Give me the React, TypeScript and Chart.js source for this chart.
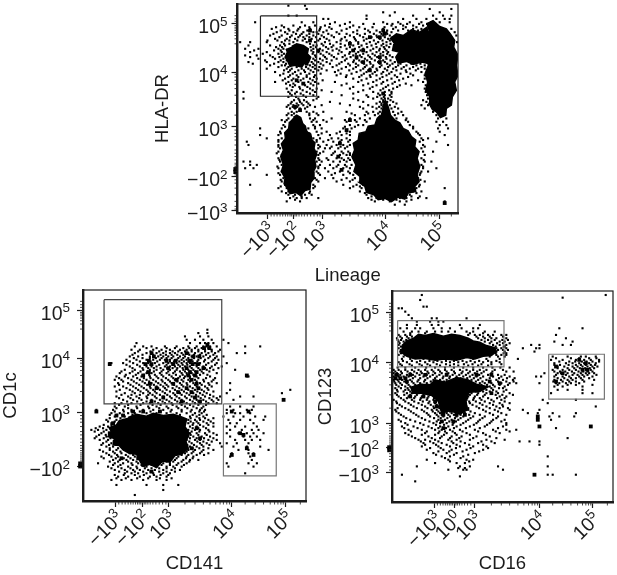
import React, { useEffect, useRef } from "react";
import { Chart, registerables } from "chart.js";

Chart.register(...registerables);

// All values are in biexponential display channels (arbitrary axis units).
const lineageRange = [262, 925];
const hlaRange = [10, 640];
const lineageTicks = [353, 430, 517, 707, 868];
const lineageLabels = ["−10³", "−10²", "10³", "10⁴", "10⁵"];
const hlaTicks = [70, 215, 380, 530, 632];
const hlaLabels = ["10⁵", "10⁴", "10³", "−10²", "−10³"];
const lineageMinor = [363, 372, 381, 390, 398, 406, 413, 420, 425, 435, 440, 447, 455, 463, 472, 482, 492, 502, 510, 555, 575, 600, 625, 645, 660, 672, 682, 690, 698, 745, 775, 800, 820, 835, 845, 855, 862, 905];
const hlaMinor = [45, 55, 62, 75, 80, 85, 90, 97, 105, 115, 130, 222, 230, 240, 252, 265, 285, 310, 345, 390, 400, 410, 420, 435, 450, 460, 470, 480, 490, 495, 500, 505, 510, 515, 520, 525, 540, 550, 565, 585, 605, 620, 628];
const hlaGate = [[331, 46], [500, 46], [500, 288], [331, 288], [331, 46]];
const lymphBlob = [[430, 352], [440, 345], [452, 352], [458, 370], [466, 378], [470, 395], [482, 402], [486, 420], [495, 428], [492, 445], [500, 462], [494, 480], [498, 500], [490, 515], [492, 535], [482, 548], [480, 568], [465, 572], [452, 588], [438, 578], [420, 582], [412, 565], [402, 552], [405, 535], [394, 515], [400, 495], [392, 470], [400, 450], [394, 432], [406, 415], [404, 398], [416, 385], [418, 365]];
const lineageBlob = [[698, 322], [706, 300], [716, 322], [722, 345], [735, 360], [750, 368], [760, 385], [775, 392], [785, 410], [798, 420], [795, 440], [808, 455], [802, 475], [810, 500], [802, 525], [808, 545], [795, 560], [798, 575], [775, 580], [765, 598], [745, 592], [725, 606], [705, 596], [685, 600], [672, 585], [650, 578], [645, 560], [628, 548], [630, 530], [612, 515], [618, 495], [606, 470], [614, 450], [610, 430], [625, 420], [628, 400], [648, 395], [655, 378], [675, 375], [682, 355], [692, 345]];
const monoBlob = [[830, 70], [850, 60], [870, 78], [890, 85], [902, 100], [915, 120], [912, 140], [925, 165], [920, 195], [925, 225], [915, 245], [920, 270], [908, 290], [905, 315], [890, 325], [888, 345], [872, 352], [860, 335], [848, 328], [838, 310], [840, 290], [828, 270], [834, 245], [826, 220], [836, 195], [830, 170], [838, 140], [828, 110], [836, 90]];
const upperBlob = [[720, 115], [740, 100], [760, 105], [785, 88], [810, 95], [832, 80], [840, 190], [815, 185], [790, 192], [770, 183], [745, 188], [738, 170], [748, 155], [728, 150], [732, 130]];
const gateBlob = [[425, 138], [440, 130], [460, 135], [475, 145], [472, 160], [482, 170], [476, 185], [462, 190], [455, 200], [435, 195], [420, 198], [412, 180], [405, 170], [412, 155], [408, 145]];
const lineageRows = [
  [15, 415, 465], [25, 470, 840, 905], [35, 735, 700, 870], [45, 415, 440, 650, 720, 790, 850, 880, 905],
  [55, 520, 535, 650, 760, 800, 830, 860, 885, 900], [65, 315, 455, 490, 555, 600, 700, 745, 780, 815, 845, 870, 900],
  [75, 395, 430, 465, 495, 525, 570, 610, 725, 760, 790, 820], [85, 365, 415, 445, 480, 510, 545, 590, 645, 700, 730, 760, 790, 815, 905],
  [95, 380, 405, 430, 460, 490, 500, 520, 560, 610, 660, 690, 710, 725, 830, 915], [105, 360, 395, 425, 450, 470, 490, 515, 545, 600, 630, 680, 700, 720, 920],
  [115, 375, 410, 435, 465, 485, 510, 530, 575, 615, 650, 690, 715], [125, 270, 300, 350, 395, 430, 470, 495, 525, 560, 600, 625, 660, 685, 710, 922],
  [135, 295, 360, 390, 405, 490, 500, 520, 550, 585, 610, 635, 665, 695, 710], [145, 285, 325, 385, 400, 490, 510, 535, 560, 590, 615, 640, 670, 690, 705],
  [155, 300, 350, 395, 490, 505, 530, 575, 600, 625, 650, 680, 700, 715], [165, 285, 320, 360, 395, 495, 520, 545, 585, 610, 630, 655, 675, 700, 720],
  [175, 325, 375, 400, 490, 510, 530, 560, 590, 620, 645, 665, 690, 710], [185, 295, 350, 385, 400, 485, 505, 530, 575, 610, 635, 660, 685, 705, 735],
  [195, 360, 395, 405, 480, 495, 520, 560, 600, 625, 650, 670, 695, 720, 745, 770, 800, 825], [205, 350, 410, 425, 455, 475, 495, 515, 575, 610, 640, 660, 680, 705, 730, 755, 780, 805, 825],
  [215, 375, 415, 435, 465, 490, 555, 620, 650, 675, 700, 725, 770, 815], [225, 390, 420, 440, 470, 495, 560, 590, 635, 660, 680, 710, 735, 790, 825],
  [235, 405, 430, 460, 480, 500, 610, 650, 690, 725, 760, 825], [245, 375, 415, 445, 475, 495, 555, 625, 670, 700, 735, 820],
  [255, 420, 435, 465, 490, 575, 640, 680, 715, 750, 785, 828], [265, 410, 450, 480, 500, 600, 660, 700, 730, 825],
  [275, 280, 415, 440, 470, 495, 545, 625, 670, 705, 725, 828], [285, 425, 460, 490, 575, 650, 690, 705, 720, 832],
  [295, 280, 445, 500, 610, 670, 695, 705, 715, 835], [305, 425, 450, 470, 540, 640, 690, 700, 712, 730, 830],
  [315, 415, 430, 445, 460, 480, 515, 600, 655, 695, 705, 720, 815, 835], [325, 420, 435, 450, 465, 640, 680, 695, 725, 745, 825],
  [335, 425, 440, 470, 490, 520, 590, 650, 670, 690, 730, 755, 850], [345, 410, 425, 478, 505, 615, 645, 675, 735, 760, 860, 880],
  [355, 415, 480, 495, 545, 600, 630, 660, 740, 770, 865, 890], [365, 405, 485, 500, 530, 590, 620, 650, 775, 860, 880],
  [375, 400, 490, 510, 600, 625, 640, 780, 870, 890], [385, 330, 395, 475, 495, 515, 580, 605, 790, 865, 895],
  [395, 390, 470, 500, 530, 570, 600, 800, 870], [405, 330, 385, 480, 505, 540, 575, 600, 810, 885],
  [415, 350, 395, 490, 510, 545, 565, 590, 815, 835], [425, 290, 385, 500, 520, 550, 570, 595, 810, 860],
  [435, 295, 385, 505, 530, 560, 580, 600, 820, 895], [445, 390, 505, 525, 540, 565, 585, 815],
  [455, 385, 500, 520, 555, 575, 595, 820, 850], [465, 395, 505, 545, 570, 590, 600, 825],
  [475, 385, 505, 530, 560, 575, 595, 815], [485, 280, 300, 390, 500, 515, 550, 570, 590, 825, 845],
  [495, 300, 320, 395, 510, 540, 565, 585, 605, 815], [505, 285, 310, 385, 505, 525, 550, 580, 600, 820, 860],
  [515, 395, 500, 535, 570, 595, 815, 835], [525, 350, 390, 510, 545, 580, 610, 810],
  [535, 400, 495, 525, 550, 590, 615, 805], [545, 395, 505, 560, 600, 630, 800, 825],
  [555, 300, 405, 490, 580, 620, 640, 810], [565, 385, 410, 490, 600, 635, 650, 800, 885],
  [575, 395, 415, 480, 630, 660, 690, 790, 815], [585, 415, 435, 465, 485, 650, 680, 705, 770, 780],
  [595, 420, 440, 455, 470, 505, 655, 680, 720, 750, 770, 805, 830], [605, 410, 450, 675, 720, 750, 770, 885], [615, 735, 765],
  [70, 540, 585, 640, 672, 712, 728, 752, 772, 808, 832, 858],
  [80, 378, 402, 450, 478, 512, 538, 600, 628, 668, 704, 738, 768, 800],
  [90, 392, 418, 442, 472, 508, 530, 575, 622, 655, 680, 712, 745, 775, 805],
  [100, 370, 412, 438, 455, 478, 505, 535, 568, 590, 622, 645, 672, 695, 712],
  [110, 388, 420, 445, 460, 478, 498, 522, 552, 585, 612, 640, 665, 682, 705, 728],
  [120, 352, 382, 405, 418, 442, 458, 480, 505, 538, 572, 590, 618, 642, 672, 698, 720],
  [130, 402, 418, 480, 515, 540, 572, 598, 625, 650, 678, 700, 722],
  [140, 378, 396, 482, 498, 528, 545, 572, 600, 628, 652, 680, 702, 718],
  [150, 312, 372, 392, 484, 518, 548, 568, 608, 632, 662, 688, 710],
  [160, 338, 385, 402, 488, 512, 538, 565, 598, 618, 640, 668, 692, 712],
  [170, 300, 368, 388, 498, 525, 552, 578, 602, 635, 660, 682, 708, 728],
  [180, 345, 392, 410, 495, 518, 545, 585, 612, 628, 652, 675, 700, 722],
  [190, 308, 372, 408, 420, 490, 512, 540, 568, 595, 618, 642, 662, 690, 712, 728, 752, 785, 812],
  [200, 385, 415, 440, 468, 488, 508, 548, 588, 618, 645, 668, 690, 715, 738, 762, 790, 815],
  [210, 402, 420, 445, 462, 482, 505, 530, 565, 598, 632, 655, 682, 712, 740, 768, 798],
  [220, 400, 428, 452, 478, 512, 572, 605, 642, 668, 695, 718, 752, 782],
  [230, 415, 445, 470, 492, 588, 628, 662, 698, 742, 775],
  [240, 398, 425, 452, 488, 518, 635, 680, 712, 748, 805],
  [250, 408, 430, 458, 482, 505, 590, 655, 695, 728, 768],
  [260, 428, 448, 472, 610, 668, 708, 742],
  [270, 425, 458, 488, 515, 640, 692, 718],
  [280, 420, 435, 452, 480, 610, 685, 700, 725],
  [290, 415, 438, 468, 505, 655, 682, 702, 725],
  [300, 432, 448, 462, 490, 625, 700, 722, 820],
  [310, 422, 440, 455, 475, 570, 680, 695, 710, 740],
  [320, 410, 428, 442, 472, 495, 630, 668, 688, 735],
  [340, 415, 432, 478, 500, 605, 655, 685, 745],
  [360, 395, 410, 490, 520, 585, 615, 645, 768],
  [380, 405, 495, 585, 615, 790],
  [400, 392, 478, 515, 560, 590, 805],
  [420, 385, 500, 535, 575, 600, 820],
  [440, 385, 510, 545, 572, 592, 825],
  [460, 380, 510, 550, 580, 600],
  [480, 388, 508, 535, 582, 600, 822],
  [500, 382, 505, 560, 590, 820],
  [520, 385, 505, 555, 600, 812],
  [540, 392, 500, 575, 608, 812],
  [560, 392, 495, 610, 630, 808],
  [580, 408, 478, 645, 672, 700, 800],
  [590, 430, 455, 665, 695, 785, 810],
  [600, 435, 665, 700, 740, 785],
];
const lineageClumps = [
  [90, 480, 700], [100, 704], [110, 660, 690], [120, 480], [130, 600], [150, 505, 610, 640], [160, 795], [170, 620, 690], [185, 640, 690],
  [190, 450, 470], [210, 660], [240, 440], [250, 460], [280, 700], [320, 435], [330, 450], [360, 600], [390, 590], [430, 570], [470, 565], [510, 575], [610, 885],
];
const lineagePile = [[256, 492], [256, 500], [256, 508], [256, 516]];

const cd141Range = [250, 917];
const cd1cRange = [16, 648];
const cd141Ticks = [347, 428, 507, 695, 855];
const cd141Labels = ["−10³", "−10²", "10³", "10⁴", "10⁵"];
const cd1cTicks = [77, 220, 382, 545];
const cd1cLabels = ["10⁵", "10⁴", "10³", "−10²"];
const cd141Minor = [357, 367, 376, 385, 393, 400, 407, 413, 418, 423, 433, 438, 444, 451, 459, 468, 478, 488, 498, 555, 585, 610, 630, 647, 660, 670, 680, 688, 735, 765, 790, 810, 823, 833, 842, 849, 900];
const cd1cMinor = [50, 60, 68, 83, 88, 93, 100, 108, 118, 133, 227, 235, 245, 257, 272, 292, 320, 355, 392, 402, 412, 425, 440, 450, 462, 472, 482, 490, 497, 504, 510, 516, 522, 528, 534, 540, 548];
const cd1cUpperGate = [[313, 45], [665, 45], [665, 357], [313, 357], [313, 45]];
const cd141Gate = [[670, 357], [828, 357], [828, 573], [670, 573], [670, 357]];
const cd141Blob = [[385, 398], [410, 388], [440, 394], [460, 385], [490, 392], [520, 388], [545, 396], [560, 402], [555, 425], [568, 445], [558, 470], [565, 490], [545, 508], [525, 512], [510, 532], [488, 528], [470, 548], [450, 538], [430, 544], [418, 525], [410, 508], [388, 505], [370, 495], [358, 482], [340, 480], [346, 462], [325, 455], [335, 440], [328, 428], [350, 420], [360, 405]];
const cd141Rows = [
  [135, 622], [145, 595, 622], [155, 555, 600, 625], [165, 560, 585, 610, 635, 670], [175, 410, 570, 600, 615, 625, 640, 685],
  [185, 405, 430, 455, 495, 530, 565, 590, 610, 620, 630, 650, 735, 780], [195, 395, 420, 460, 485, 510, 540, 560, 575, 595, 615, 635, 660],
  [205, 405, 440, 470, 490, 510, 525, 545, 565, 585, 605, 625, 645, 710, 735], [215, 390, 415, 450, 475, 490, 505, 520, 540, 555, 575, 590, 610, 630, 650, 670],
  [225, 380, 410, 440, 460, 480, 495, 510, 530, 545, 560, 575, 595, 615, 640, 655], [235, 330, 335, 370, 400, 430, 445, 465, 490, 505, 515, 530, 545, 560, 570, 585, 600, 625, 650, 680],
  [245, 390, 420, 440, 455, 470, 495, 510, 525, 540, 555, 570, 590, 610, 635, 665], [255, 375, 405, 430, 450, 470, 490, 510, 530, 550, 565, 580, 600, 620, 640, 705],
  [265, 360, 390, 415, 440, 455, 480, 500, 520, 545, 560, 575, 590, 610, 650], [275, 350, 375, 400, 425, 450, 470, 490, 515, 540, 555, 570, 590, 630, 745, 740],
  [285, 345, 365, 395, 420, 440, 460, 485, 505, 525, 545, 565, 585, 610, 640], [295, 355, 385, 410, 435, 455, 475, 495, 515, 540, 560, 580, 600, 625, 650, 690],
  [305, 345, 370, 400, 425, 450, 470, 490, 505, 530, 550, 570, 590, 615, 635], [315, 360, 390, 415, 440, 460, 480, 500, 525, 545, 565, 585, 605, 625, 690, 870],
  [325, 375, 405, 430, 450, 470, 495, 520, 540, 560, 580, 600, 620, 680, 845], [335, 350, 385, 410, 440, 465, 490, 510, 530, 555, 575, 595, 615, 640, 660, 720, 760],
  [345, 370, 400, 425, 455, 480, 500, 525, 545, 570, 590, 610, 635, 655, 700, 850], [355, 345, 365, 395, 430, 450, 475, 495, 515, 540, 560, 585, 600, 625, 650],
  [365, 345, 375, 410, 445, 470, 500, 530, 555, 580, 610, 690, 720, 760], [375, 290, 340, 370, 395, 430, 460, 490, 515, 545, 575, 600, 615, 680, 700, 740, 755],
  [385, 335, 360, 385, 405, 440, 470, 500, 530, 560, 585, 605, 680, 705, 720, 750], [395, 345, 375, 570, 590, 610, 670, 700, 730, 765, 795],
  [405, 320, 350, 370, 565, 585, 600, 625, 685, 720, 750, 790], [415, 335, 360, 565, 580, 595, 620, 640, 690, 710, 760],
  [425, 300, 325, 345, 570, 590, 610, 640, 680, 705, 735, 770], [435, 275, 295, 320, 340, 565, 585, 600, 625, 690, 725, 755, 775],
  [445, 305, 330, 570, 590, 615, 640, 680, 715, 740, 760, 790], [455, 290, 320, 565, 580, 605, 630, 690, 730, 750, 770],
  [465, 300, 325, 345, 560, 585, 600, 625, 650, 705, 735, 755, 780], [475, 310, 335, 355, 555, 575, 600, 620, 660, 680, 710, 745],
  [485, 320, 340, 365, 385, 550, 570, 590, 610, 665, 700, 740, 780], [495, 300, 330, 350, 375, 400, 540, 565, 585, 610, 640, 715, 745, 805],
  [505, 320, 345, 365, 390, 410, 530, 555, 575, 600, 625, 695, 745, 760], [515, 305, 335, 355, 385, 405, 430, 510, 535, 560, 580, 690, 750],
  [525, 340, 360, 380, 400, 500, 525, 550, 570, 595, 755], [535, 295, 345, 370, 395, 415, 490, 510, 535, 560, 680, 745, 770],
  [545, 325, 355, 385, 410, 440, 470, 500, 520, 545, 685, 760], [555, 345, 375, 400, 420, 445, 465, 490, 515, 540],
  [565, 375, 395, 415, 440, 460, 490, 510, 735], [575, 355, 385, 420, 450, 470, 500], [585, 335, 365, 395, 430, 470, 500],
  [600, 350, 440, 490, 535], [615, 490], [630, 405],
  [190, 440, 470, 500, 525, 550, 568, 585, 605, 625],
  [200, 415, 452, 478, 498, 518, 535, 555, 575, 595, 615, 635, 655],
  [210, 398, 428, 460, 482, 498, 515, 532, 550, 568, 582, 600, 618, 640],
  [220, 402, 428, 450, 468, 485, 500, 515, 535, 550, 565, 582, 602, 625, 645],
  [230, 390, 420, 452, 472, 498, 510, 522, 538, 552, 565, 578, 592, 612, 635],
  [240, 380, 412, 435, 452, 478, 500, 518, 535, 548, 562, 578, 598, 618, 645],
  [250, 398, 428, 445, 462, 482, 502, 518, 532, 548, 560, 575, 595, 615, 630, 655],
  [260, 365, 398, 422, 442, 462, 485, 505, 525, 540, 555, 570, 585, 605, 628],
  [270, 378, 408, 432, 448, 465, 485, 508, 528, 548, 562, 580, 600, 622],
  [280, 358, 385, 412, 432, 452, 475, 498, 520, 535, 552, 570, 595, 618, 645],
  [290, 370, 402, 428, 448, 468, 488, 510, 532, 550, 570, 590, 612, 635],
  [300, 358, 392, 418, 442, 462, 482, 500, 522, 545, 562, 585, 605, 628],
  [310, 380, 408, 432, 452, 475, 495, 518, 538, 558, 578, 598, 622],
  [320, 350, 398, 422, 445, 465, 488, 510, 532, 552, 572, 592, 612, 640],
  [330, 365, 395, 420, 445, 458, 480, 502, 525, 545, 568, 588, 608, 630],
  [340, 358, 392, 418, 442, 470, 492, 515, 538, 560, 582, 602, 628, 650],
  [350, 382, 412, 440, 465, 488, 508, 532, 552, 578, 595, 618, 640],
  [360, 358, 385, 422, 458, 482, 518, 545, 570, 595, 618],
  [370, 350, 385, 412, 448, 478, 505, 535, 562, 590, 605],
  [380, 345, 372, 395, 420, 452, 482, 512, 545, 572, 598, 612],
  [390, 330, 352, 368, 398, 540, 578, 598, 620],
  [400, 330, 362, 572, 598, 615, 640], [410, 325, 345, 572, 590, 610, 632], [420, 312, 335, 355, 578, 600, 625],
  [430, 288, 310, 332, 350, 578, 595, 618], [440, 285, 312, 335, 575, 598, 628], [450, 298, 318, 338, 572, 595, 620, 650],
  [460, 285, 312, 332, 570, 590, 612, 640], [470, 320, 342, 568, 592, 610, 635], [480, 305, 328, 348, 562, 582, 605, 628],
  [490, 330, 355, 378, 558, 578, 598, 625], [500, 310, 340, 362, 385, 535, 560, 580, 605], [510, 328, 352, 378, 400, 518, 545, 565, 590, 612],
  [520, 312, 348, 372, 392, 418, 508, 530, 558, 578], [530, 330, 355, 385, 410, 480, 500, 520, 545, 568], [540, 340, 362, 398, 425, 455, 485, 510, 530, 552],
  [550, 335, 365, 392, 412, 435, 455, 478, 500, 525], [560, 358, 382, 405, 430, 452, 478, 500, 525], [570, 345, 372, 405, 432, 462, 482, 505], [580, 350, 378, 412, 445, 480, 515],
];
const cd141Clumps = [
  [180, 622], [190, 612, 628], [205, 455, 560], [215, 462, 580, 598], [228, 447, 500, 527, 570], [238, 330, 437, 455, 520, 578, 592], [250, 505, 560, 610],
  [262, 447, 570, 590], [272, 430, 565, 585, 740], [285, 530, 575], [297, 450, 520, 590], [310, 470, 560, 595], [322, 535, 575], [338, 490, 585], [345, 850], [350, 455, 545, 600],
  [380, 290, 400, 430, 480, 695, 745], [392, 350, 370], [415, 340], [430, 590], [445, 330, 720], [450, 730], [460, 600], [470, 345], [490, 575, 740], [510, 695, 760], [520, 365, 415], [540, 430], [560, 455],
];
const cd141Pile = [[242, 520], [242, 528], [242, 536], [242, 544]];

const cd16Range = [245, 912];
const cd123Range = [18, 652];
const cd16Ticks = [373, 433, 495, 690, 850];
const cd16Labels = ["−10³", "10⁰", "10³", "10⁴", "10⁵"];
const cd123Ticks = [82, 232, 415, 488, 563];
const cd123Labels = ["10⁵", "10⁴", "10³", "−10²", "−10³"];
const cd16Minor = [382, 391, 399, 406, 412, 418, 423, 428, 438, 443, 449, 456, 464, 473, 483, 545, 575, 600, 625, 643, 657, 668, 676, 684, 730, 760, 785, 805, 820, 830, 838, 845, 895];
const cd123Minor = [55, 65, 73, 88, 93, 98, 105, 113, 123, 138, 240, 250, 262, 278, 300, 330, 370, 422, 430, 438, 446, 454, 460, 466, 472, 478, 483, 494, 500, 507, 515, 524, 534, 546, 556];
const cd123Gate = [[262, 107], [583, 107], [583, 246], [262, 246], [262, 107]];
const cd16Gate = [[718, 208], [886, 208], [886, 343], [718, 343], [718, 208]];
const cd123Blob = [[275, 182], [290, 168], [310, 160], [325, 148], [345, 152], [370, 146], [400, 154], [425, 148], [450, 152], [475, 160], [490, 168], [510, 172], [530, 182], [555, 188], [560, 200], [545, 212], [520, 214], [495, 222], [470, 218], [440, 226], [405, 222], [375, 226], [340, 220], [315, 222], [290, 214], [272, 202]];
const cd16Blob = [[300, 308], [330, 298], [360, 300], [375, 285], [405, 292], [440, 278], [475, 285], [500, 298], [535, 306], [510, 320], [478, 322], [468, 345], [472, 375], [450, 388], [420, 378], [395, 385], [385, 350], [365, 332], [335, 325], [305, 325]];
const cd16Rows = [
  [30, 335, 890], [38, 760], [45, 330], [65, 340, 350], [70, 265, 275], [80, 285], [90, 295], [100, 305, 365, 380, 470],
  [110, 320, 360, 385, 400], [120, 290, 320, 365, 385, 450, 510], [130, 270, 290, 315, 330, 370, 395, 420, 455, 490, 505, 750, 820],
  [140, 280, 305, 325, 350, 375, 395, 415, 435, 470, 490, 525, 555], [150, 265, 285, 300, 475, 495, 510, 535, 550, 575, 590, 740],
  [160, 260, 275, 295, 505, 525, 545, 560, 590, 770], [170, 265, 280, 525, 545, 570, 585, 735, 790], [180, 265, 550, 570, 590, 665, 690, 760, 785],
  [190, 265, 560, 575, 590, 640, 680, 690], [200, 270, 560, 585, 675], [210, 265, 285, 560, 575, 590],
  [222, 275, 300, 340, 395, 450, 490, 530, 570, 625], [232, 265, 290, 320, 345, 370, 395, 420, 445, 470, 495, 520, 545, 570], [242, 275, 305, 335, 360, 390, 420, 445, 475, 505, 535],
  [215, 730, 775, 815, 830, 860], [225, 725, 760, 800, 825, 845, 870], [235, 735, 770, 790, 810, 825, 840, 860], [245, 740, 745, 765, 790, 805, 820, 835, 850, 865],
  [255, 730, 760, 780, 800, 820, 830, 845], [265, 705, 745, 755, 775, 795, 815, 830, 840, 855], [275, 680, 695, 735, 760, 780, 810, 825, 850], [285, 735, 755, 775, 790, 820, 855],
  [295, 690, 740, 750, 770, 785, 810], [305, 735, 760, 820], [315, 745, 775, 820], [325, 725, 820, 850], [345, 700, 800], [355, 715], [365, 860],
  [375, 640, 690], [385, 655, 685, 730, 800], [395, 720, 750, 795], [405, 685, 725], [425, 690, 845], [430, 740], [460, 775], [470, 630, 660, 690], [480, 690], [515, 715], [545, 715], [570, 275, 675, 715, 730, 800], [590, 315],
  [255, 250, 265, 285, 305, 325, 345, 365, 385, 405, 425, 450, 470, 490, 510, 530, 555, 580], [265, 250, 260, 275, 300, 320, 335, 355, 375, 395, 415, 435, 455, 475, 495, 515, 545],
  [275, 250, 265, 280, 295, 315, 340, 360, 380, 400, 420, 440, 460, 480, 500, 520, 550, 575, 600], [285, 250, 262, 275, 300, 325, 345, 370, 390, 410, 430, 445, 465, 485, 505, 530, 560, 580, 610],
  [295, 255, 270, 290, 310, 330, 350, 375, 395, 415, 435, 455, 470, 490, 510, 525, 545, 575, 600, 620], [305, 265, 285, 300, 320, 340, 360, 380, 405, 425, 440, 460, 480, 500, 520, 540, 555, 585],
  [315, 260, 285, 295, 310, 330, 350, 370, 390, 415, 430, 450, 470, 490, 510, 530, 550, 590], [325, 255, 290, 305, 325, 345, 365, 385, 405, 425, 445, 465, 485, 505, 530, 565, 600],
  [335, 265, 295, 315, 335, 355, 375, 395, 415, 435, 455, 475, 495, 520, 570, 590], [345, 250, 280, 305, 330, 350, 370, 390, 410, 430, 450, 470, 490, 515, 545, 575],
  [355, 260, 295, 325, 355, 375, 395, 415, 440, 460, 480, 510, 540, 570, 600], [365, 275, 310, 345, 370, 385, 405, 425, 450, 470, 500, 530, 560, 580],
  [375, 255, 295, 335, 365, 380, 395, 415, 435, 455, 475, 520, 555, 600], [385, 265, 310, 350, 375, 390, 410, 425, 445, 465, 495, 540, 575],
  [395, 280, 325, 360, 385, 400, 420, 440, 460, 490, 525, 565], [405, 265, 300, 345, 385, 405, 425, 445, 475, 510, 550, 585],
  [415, 285, 330, 370, 390, 410, 430, 460, 500, 540, 590], [425, 275, 310, 355, 390, 415, 440, 480, 525, 580],
  [435, 295, 335, 375, 395, 420, 450, 495, 550, 590, 620], [445, 285, 345, 385, 410, 435, 470, 520, 570], [455, 305, 355, 395, 425, 455, 500, 540],
  [465, 325, 345, 375, 415, 440, 480, 530, 585], [475, 340, 370, 395, 430, 465, 505, 555], [485, 335, 385, 420, 450, 490, 530], [495, 350, 400, 425, 470, 520],
  [505, 370, 410, 440, 495], [515, 395, 420, 460], [525, 350, 415, 470, 490], [535, 375, 440, 465], [545, 320, 450, 480, 565], [555, 415, 460, 470, 580], [575, 450],
  [260, 255, 272, 292, 312, 332, 352, 370, 390, 410, 432, 458, 480, 502, 522, 548, 590, 612],
  [270, 255, 270, 290, 308, 328, 350, 368, 388, 408, 428, 448, 468, 488, 508, 535, 565, 585],
  [280, 258, 272, 288, 308, 330, 352, 375, 398, 418, 438, 452, 472, 492, 512, 540, 568, 592, 615],
  [290, 252, 265, 282, 305, 322, 342, 362, 382, 402, 425, 442, 460, 478, 498, 518, 538, 565, 590, 612],
  [300, 258, 275, 295, 315, 335, 355, 378, 398, 420, 438, 458, 478, 495, 515, 532, 550, 570, 595],
  [310, 255, 272, 292, 305, 325, 345, 365, 385, 410, 428, 445, 465, 485, 505, 525, 545, 568, 580],
  [320, 262, 280, 300, 318, 338, 358, 378, 398, 418, 438, 458, 478, 498, 520, 540, 560, 582],
  [330, 260, 282, 300, 320, 340, 360, 380, 400, 420, 442, 460, 480, 502, 525, 558, 578, 610],
  [340, 272, 290, 312, 332, 352, 372, 392, 412, 432, 452, 472, 492, 510, 535, 562, 585],
  [350, 258, 285, 312, 338, 358, 378, 398, 418, 438, 458, 478, 498, 525, 552, 585],
  [360, 268, 302, 335, 362, 380, 398, 420, 445, 465, 488, 518, 550, 578],
  [370, 262, 285, 320, 352, 372, 388, 408, 430, 452, 475, 508, 540, 570, 595],
  [380, 258, 302, 342, 368, 385, 402, 420, 440, 460, 482, 528, 565],
  [390, 272, 318, 355, 380, 395, 415, 432, 452, 478, 510, 550, 590],
  [400, 288, 335, 372, 392, 412, 435, 452, 482, 518, 560],
  [410, 272, 315, 358, 380, 398, 418, 438, 468, 505, 545, 575],
  [420, 292, 340, 378, 402, 428, 452, 492, 532, 590],
  [430, 282, 322, 365, 385, 408, 432, 468, 510, 565],
  [440, 302, 350, 388, 405, 428, 458, 505, 558, 600],
  [450, 295, 335, 375, 402, 440, 480, 528],
  [460, 315, 365, 390, 420, 448, 490, 560],
  [470, 332, 360, 385, 425, 452, 515, 545],
  [480, 345, 378, 410, 440, 478, 520],
  [490, 360, 392, 438, 482, 535],
  [500, 385, 418, 458, 508],
  [510, 378, 432, 475],
  [520, 405, 452],
  [530, 420, 478], [550, 445, 465],
  [145, 300, 345, 480, 520], [155, 270, 290, 305, 500, 520, 540, 580], [165, 262, 272, 288, 515, 535, 555, 578, 595], [175, 268, 285, 540, 562, 580, 600],
  [185, 272, 558, 582, 585], [195, 272, 565, 580, 595], [205, 272, 290, 558, 582, 590], [215, 280, 300, 330, 380, 440, 500, 540, 565, 585],
  [228, 278, 305, 330, 358, 382, 408, 432, 458, 482, 508, 535, 560], [238, 270, 298, 328, 352, 380, 408, 432, 462, 488, 515, 545, 575], [248, 262, 285, 315, 348, 375, 405, 432, 460, 490, 520, 548, 572, 600],
  [220, 740, 785, 810, 840, 862], [230, 750, 780, 798, 818, 832, 850, 870], [240, 735, 752, 778, 800, 815, 830, 845, 858], [250, 745, 775, 795, 812, 828, 842, 855],
  [260, 735, 752, 768, 788, 808, 822, 836, 850], [270, 740, 770, 790, 805, 820, 835, 862], [280, 745, 765, 785, 800, 815, 840], [290, 732, 760, 780, 800, 825], [300, 745, 775, 800, 850],
];
const cd16Clumps = [
  [225, 810], [235, 830], [245, 740], [255, 820, 835], [265, 760], [270, 260, 300, 345, 410, 500, 545], [280, 255, 270, 285], [290, 290, 470, 540, 740], [295, 570],
  [325, 545], [335, 300, 340], [350, 375, 435], [365, 380, 450], [390, 400, 440, 465], [395, 685], [405, 685], [410, 395, 430], [425, 690, 845], [430, 400], [570, 675],
];
const cd16Pile = [[237, 480], [237, 488], [237, 496]];

const FONT = "'Liberation Sans', Arial, sans-serif";
const INK = "#1c1c1c";
const SUPER: Record<string, string> = { "⁰": "0", "²": "2", "³": "3", "⁴": "4", "⁵": "5" };

type Pair = number[];
const toPoints = (pairs: Pair[]) => pairs.map(([x, y]) => ({ x, y }));
const rowsToPoints = (rows: number[][]) => rows.flatMap(([y, ...xs]) => xs.map((x) => ({ x, y })));

const blobSet = (pairs: Pair[]) => ({
  data: toPoints(pairs), showLine: true, fill: "shape", backgroundColor: "#000", borderColor: "#000", borderWidth: 1.5, pointRadius: 0, tension: 0, order: 3,
});
const speckSet = (rows: number[][], radius = 1.5) => ({
  data: rowsToPoints(rows), showLine: false, pointStyle: "rect", pointRadius: radius, pointBorderWidth: 0, pointBackgroundColor: "#000", clip: false, order: 2,
});
const pileSet = (pairs: Pair[]) => ({
  data: toPoints(pairs), showLine: false, pointStyle: "rect", pointRadius: 3, pointBorderWidth: 0, pointBackgroundColor: "#000", clip: false, order: 2,
});
const gateSet = (pairs: Pair[], color: string) => ({
  data: toPoints(pairs), showLine: true, fill: false, borderColor: color, borderWidth: 1.2, pointRadius: 0, tension: 0, order: 1,
});

const PANELS = [
  {
    box: { left: 140, top: 0, width: 330, height: 290 }, margins: { left: 97.5, top: 3, right: 12, bottom: 77 },
    xRange: lineageRange, yRange: hlaRange, xTicks: lineageTicks, xLabels: lineageLabels, yTicks: hlaTicks, yLabels: hlaLabels,
    xMinor: lineageMinor, yMinor: hlaMinor, xTitle: "Lineage", yTitle: "HLA-DR", xTitlePad: 3, yTitlePad: 12, yLabelGap: 10,
    datasets: [blobSet(lymphBlob), blobSet(lineageBlob), blobSet(monoBlob), blobSet(upperBlob), blobSet(gateBlob), speckSet(lineageRows), speckSet(lineageClumps, 2.7), pileSet(lineagePile), gateSet(hlaGate, "#222")],
  },
  {
    box: { left: 0, top: 285, width: 310, height: 290 }, margins: { left: 83, top: 5, right: 4, bottom: 74 },
    xRange: cd141Range, yRange: cd1cRange, xTicks: cd141Ticks, xLabels: cd141Labels, yTicks: cd1cTicks, yLabels: cd1cLabels,
    xMinor: cd141Minor, yMinor: cd1cMinor, xTitle: "CD141", yTitle: "CD1c", xTitlePad: 0, yTitlePad: 0, yLabelGap: 13,
    datasets: [blobSet(cd141Blob), speckSet(cd141Rows), speckSet(cd141Clumps, 2.7), pileSet(cd141Pile), gateSet(cd1cUpperGate, "#444"), gateSet(cd141Gate, "#777")],
  },
  {
    box: { left: 310, top: 285, width: 307, height: 290 }, margins: { left: 82, top: 6, right: 3, bottom: 73 },
    xRange: cd16Range, yRange: cd123Range, xTicks: cd16Ticks, xLabels: cd16Labels, yTicks: cd123Ticks, yLabels: cd123Labels,
    xMinor: cd16Minor, yMinor: cd123Minor, xTitle: "CD16", yTitle: "CD123", xTitlePad: 0, yTitlePad: 5, yLabelGap: 13,
    datasets: [blobSet(cd123Blob), blobSet(cd16Blob), speckSet(cd16Rows), speckSet(cd16Clumps, 2.7), pileSet(cd16Pile), gateSet(cd123Gate, "#777"), gateSet(cd16Gate, "#777")],
  },
];

type PanelDef = (typeof PANELS)[number];

// Draws a "−10⁵" style label, right-aligned at the current origin, with a true raised exponent.
function drawPowerLabel(ctx: CanvasRenderingContext2D, label: string) {
  const exp = SUPER[label.slice(-1)] ?? "";
  const base = label.slice(0, -1);
  ctx.font = `13.5px ${FONT}`;
  const ew = ctx.measureText(exp).width;
  ctx.textAlign = "right";
  ctx.textBaseline = "alphabetic";
  ctx.fillText(exp, 0, -7.5);
  ctx.font = `19.5px ${FONT}`;
  ctx.fillText(base, -ew, 0);
}

function Panel({ p }: { p: PanelDef }) {
  const ref = useRef<HTMLCanvasElement>(null);
  useEffect(() => {
    const framePlugin = {
      id: "frameAndLabels",
      afterDraw(chart: any) {
        const { ctx, chartArea: a, scales } = chart;
        ctx.save();
        ctx.strokeStyle = INK;
        ctx.fillStyle = INK;
        ctx.lineWidth = 1.2;
        ctx.strokeRect(a.left, a.top, a.right - a.left, a.bottom - a.top);
        ctx.lineWidth = 0.8;
        ctx.beginPath();
        p.xMinor.forEach((v: number) => {
          const px = scales.x.getPixelForValue(v);
          ctx.moveTo(px, a.bottom);
          ctx.lineTo(px, a.bottom + 3.5);
        });
        p.yMinor.forEach((v: number) => {
          const py = scales.y.getPixelForValue(v);
          ctx.moveTo(a.left, py);
          ctx.lineTo(a.left - 3, py);
        });
        ctx.stroke();
        scales.x.ticks.forEach((t: any) => {
          ctx.save();
          ctx.translate(scales.x.getPixelForValue(t.value) + 9, a.bottom + 18);
          ctx.rotate(-Math.PI / 4);
          drawPowerLabel(ctx, t.label);
          ctx.restore();
        });
        scales.y.ticks.forEach((t: any) => {
          ctx.save();
          ctx.translate(a.left - p.yLabelGap, scales.y.getPixelForValue(t.value) + 9.5);
          drawPowerLabel(ctx, t.label);
          ctx.restore();
        });
        ctx.restore();
      },
    };
    const titleFont = { family: FONT, size: 18.5 };
    const chart = new Chart(ref.current as HTMLCanvasElement, {
      type: "scatter",
      data: { datasets: p.datasets as any },
      plugins: [framePlugin],
      options: {
        animation: false,
        responsive: false,
        layout: { padding: { top: p.margins.top, right: p.margins.right, left: 0, bottom: 0 } },
        plugins: { legend: { display: false }, tooltip: { enabled: false }, title: { display: false } },
        scales: {
          x: {
            type: "linear", min: p.xRange[0], max: p.xRange[1], offset: false,
            grid: { drawOnChartArea: false, drawTicks: true, tickLength: 6, tickColor: INK, tickWidth: 1.2 },
            border: { display: true, color: INK, width: 2.4 },
            ticks: {
              display: false, autoSkip: false,
              callback: (v: any) => p.xLabels[p.xTicks.indexOf(Number(v))] ?? "",
            },
            title: { display: true, text: p.xTitle, color: INK, font: titleFont, padding: { top: 0, bottom: p.xTitlePad } },
            afterBuildTicks: (s: any) => { s.ticks = p.xTicks.map((value: number) => ({ value })); },
            afterFit: (s: any) => { s.height = p.margins.bottom; s.paddingLeft = 0; s.paddingRight = 0; },
          },
          y: {
            type: "linear", reverse: true, min: p.yRange[0], max: p.yRange[1], offset: false,
            grid: { drawOnChartArea: false, drawTicks: true, tickLength: 6, tickColor: INK, tickWidth: 1.2 },
            border: { display: true, color: INK, width: 2.4 },
            ticks: {
              display: false, autoSkip: false,
              callback: (v: any) => p.yLabels[p.yTicks.indexOf(Number(v))] ?? "",
            },
            title: { display: true, text: p.yTitle, color: INK, font: titleFont, padding: { top: p.yTitlePad, bottom: 0 } },
            afterBuildTicks: (s: any) => { s.ticks = p.yTicks.map((value: number) => ({ value })); },
            afterFit: (s: any) => { s.width = p.margins.left; s.paddingTop = 0; s.paddingBottom = 0; },
          },
        },
      } as any,
    });
    return () => chart.destroy();
  }, [p]);
  return (
    <canvas
      ref={ref}
      width={p.box.width}
      height={p.box.height}
      style={{ position: "absolute", left: p.box.left, top: p.box.top, width: p.box.width, height: p.box.height }}
    />
  );
}

export default function App() {
  return (
    <div style={{ position: "fixed", left: 0, top: 0, width: 617, height: 575, background: "#fff", overflow: "hidden" }}>
      {PANELS.map((p) => (
        <Panel key={p.xTitle} p={p} />
      ))}
    </div>
  );
}
